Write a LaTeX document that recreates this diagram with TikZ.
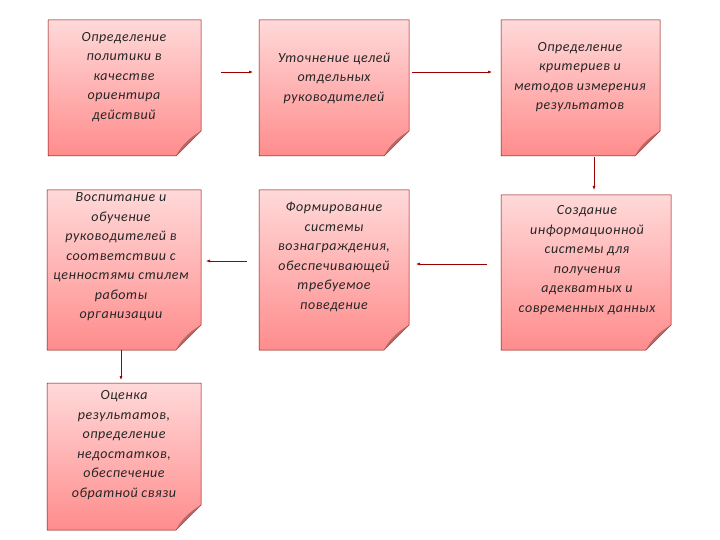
\documentclass[tikz,border=0pt]{standalone}
\usepackage{fontspec}
\setmainfont{Carlito}[LetterSpace=4]
\usetikzlibrary{arrows.meta}
\begin{document}
\begin{tikzpicture}[x=1pt,y=-1pt,
  card/.style={inner sep=3pt,align=center,
    font=\itshape\fontsize{14}{19.5}\selectfont,text=black!85},
  arr/.style={draw=red!60!black,-{Latex[length=4pt,width=3pt]},line width=0.6pt}]
\useasboundingbox (0,0) rectangle (720,540);
\newcommand{\mycard}[5]{% name, x1,y1,x2,y2
  \shade[top color=red!15,bottom color=red!45,draw=red!55!black,line width=0.5pt]
    (#2,#3) -- (#4,#3) -- (#4,#5-25) -- (#4-25,#5) -- (#2,#5) -- cycle;
  \fill[red!55!black!60] (#4,#5-25) -- (#4-25,#5) .. controls (#4-20,#5-10) and (#4-12,#5-18) .. (#4,#5-25);
}
\mycard{a}{48}{20}{201}{156}
\mycard{b}{259}{20}{409}{156}
\mycard{c}{501}{20}{660}{156}
\mycard{d}{47}{190}{201}{350}
\mycard{e}{259}{190}{409}{350}
\mycard{f}{501}{195}{671}{350}
\mycard{g}{47}{383}{201}{530}
\node[card] (A) at (124,77) {Определение\\политики в\\качестве\\ориентира\\действий};
\node[card] (B) at (334,78) {Уточнение целей\\отдельных\\руководителей};
\node[card] (C) at (580,77) {Определение\\критериев и\\методов измерения\\результатов};
\node[card] (D) at (121,257) {Воспитание и\\обучение\\руководителей в\\соответствии с\\ценностями стилем\\работы\\организации};
\node[card] (E) at (334,257) {Формирование\\системы\\вознаграждения,\\обеспечивающей\\требуемое\\поведение};
\node[card] (F) at (587,260) {Создание\\информационной\\системы для\\получения\\адекватных и\\современных данных};
\node[card] (G) at (124,445) {Оценка\\результатов,\\определение\\недостатков,\\обеспечение\\обратной связи};
\draw[arr] (221,72) -- (253,72);
\draw[arr] (412,72) -- (492,72);
\draw[arr] (594,157) -- (594,190);
\draw[arr] (487,264) -- (416,264);
\draw[arr] (247,261) -- (206,261);
\draw[arr] (121,350) -- (121,380);
\end{tikzpicture}
\end{document}
